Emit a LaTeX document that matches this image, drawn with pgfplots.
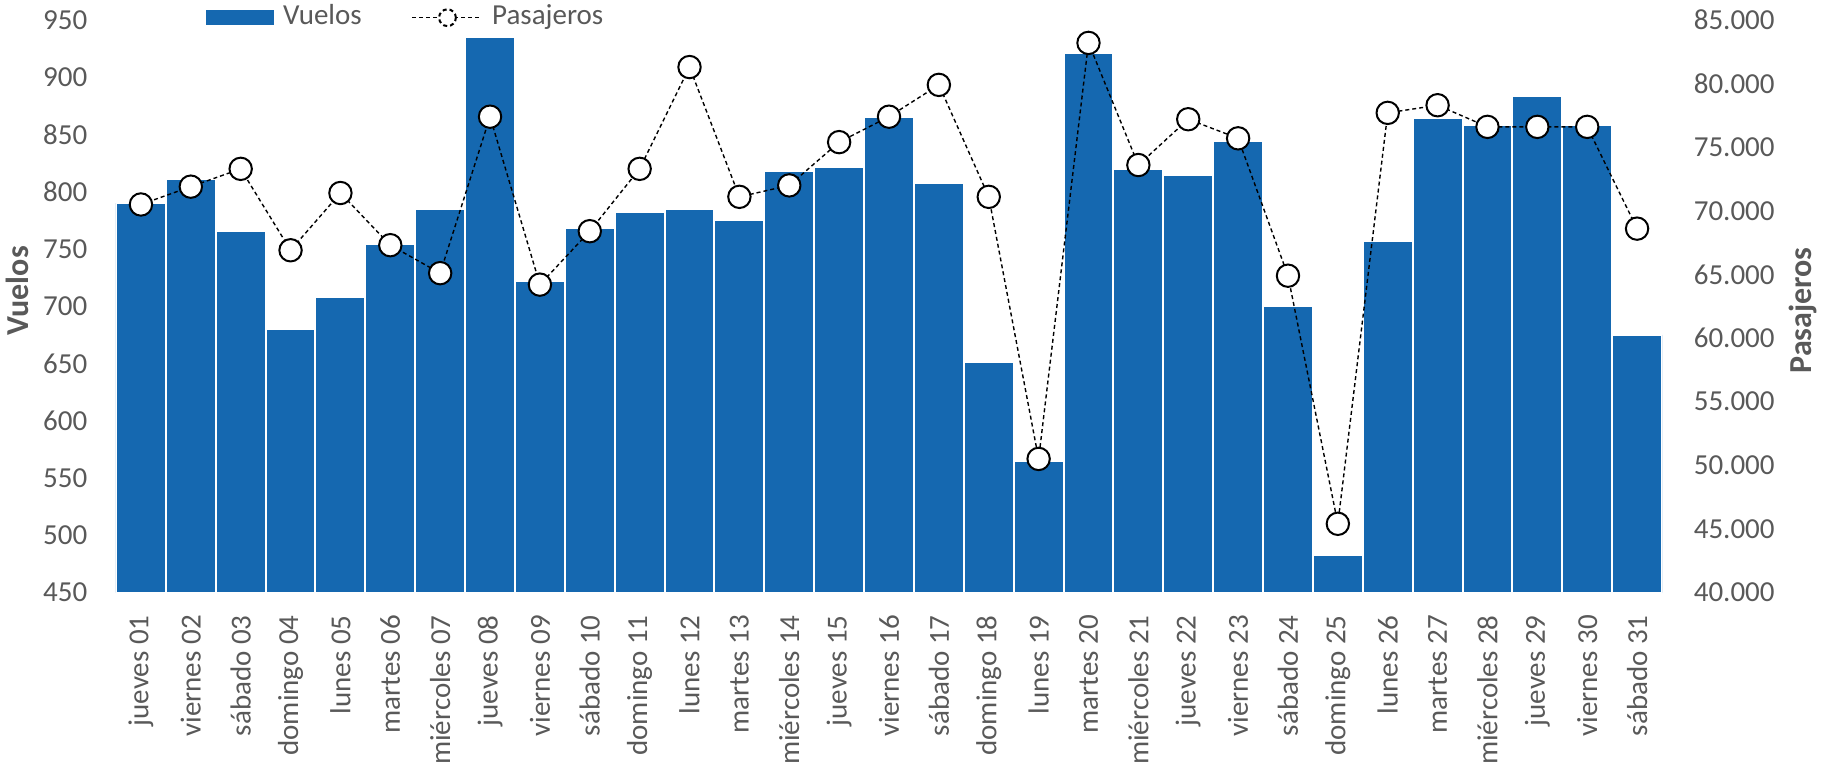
\documentclass[border=0pt]{standalone}
\usepackage{pgfplots}
\usepackage{pgfplotstable}
\pgfplotsset{compat=1.18}
\usepackage{fontspec}
\setmainfont{Carlito}

\definecolor{barblue}{RGB}{21,104,176}
\definecolor{txt}{RGB}{89,89,89}

% dia, vuelos, pasajeros
\pgfplotstableread{
x v p
1 790 70500
2 811 71900
3 766 73300
4 680 66900
5 708 71400
6 754 67300
7 785 65100
8 935 77400
9 722 64200
10 768 68400
11 782 73300
12 785 81300
13 775 71100
14 818 72000
15 822 75400
16 865 77400
17 808 79900
18 651 71100
19 565 50500
20 921 83200
21 820 73600
22 815 77200
23 844 75700
24 700 64900
25 483 45400
26 757 77700
27 864 78300
28 858 76600
29 884 76600
30 858 76600
31 675 68600
}\datos

\newcommand{\tickfont}{\fontsize{7.25}{8.7}\selectfont}
\newcommand{\labfont}{\fontsize{8}{9.6}\selectfont\bfseries}

\pgfplotsset{
  base/.style={
    scale only axis, width=386.5pt, height=143.125pt,
    at={(29pt,44.625pt)}, anchor=south west,
    xmin=0.5, xmax=31.5,
    axis line style={draw=none}, major tick length=0pt,
    tick label style={font=\tickfont, text=txt},
    /pgf/number format/assume math mode=true,
  }
}

\begin{document}
\begin{tikzpicture}
\useasboundingbox (0,0) rectangle (456.5pt,192.75pt);

\begin{axis}[base,
  ymin=450, ymax=950, ytick={450,500,...,950},
  xtick={1,...,31},
  xticklabels={jueves 01, viernes 02, sábado 03, domingo 04, lunes 05, martes 06, miércoles 07, jueves 08, viernes 09, sábado 10, domingo 11, lunes 12, martes 13, miércoles 14, jueves 15, viernes 16, sábado 17, domingo 18, lunes 19, martes 20, miércoles 21, jueves 22, viernes 23, sábado 24, domingo 25, lunes 26, martes 27, miércoles 28, jueves 29, viernes 30, sábado 31},
  xticklabel style={rotate=90, anchor=east, inner sep=0pt},
  xticklabel shift=5.5pt,
  yticklabel style={inner sep=0pt},
  yticklabel shift=7pt,
  ylabel={Vuelos},
  ylabel style={at={(axis description cs:-0.064,0.527)}, anchor=center, font=\labfont, text=txt},
]
\addplot[ybar, bar width=1, fill=barblue, draw=white, line width=0.5pt] table[x=x, y=v] {\datos};
\end{axis}

\begin{axis}[base,
  axis x line=none, xtick=\empty,
  axis y line*=right,
  ymin=40000, ymax=85000, ytick={40000,45000,...,85000},
  scaled y ticks=false,
  /pgf/number format/.cd, fixed, precision=0, 1000 sep={.}, /pgfplots/.cd,
  yticklabel style={inner sep=0pt},
  yticklabel shift=7.75pt,
  ylabel={Pasajeros},
  ylabel style={at={(axis description cs:1.091,0.493)}, anchor=center, rotate=0, font=\labfont, text=txt},
  legend columns=2,
  legend style={at={(axis description cs:0.058,1.004)}, anchor=west,
    draw=none, fill=none, inner sep=0pt, column sep=2.25pt,
    font=\tickfont, text=txt,
    nodes={inner sep=0pt},
    /tikz/every even column/.append style={column sep=12.5pt}},
]
\addlegendimage{legend image code/.code={\fill[barblue] (0pt,-1.625pt) rectangle (16.5pt,1.625pt);}}
\addlegendentry{Vuelos}
\addplot[black, line width=0.35pt, dash pattern=on 1pt off 0.75pt,
  mark=*, mark size=2.8pt, mark options={solid, fill=white, draw=black, line width=0.5pt},
  legend image code/.code={
    \draw[black, line width=0.35pt, dash pattern=on 1pt off 0.75pt] (0pt,0pt) -- (17.5pt,0pt);
    \draw[black, fill=white, line width=0.5pt] (8.75pt,0pt) circle (2.1pt);}
] table[x=x, y=p] {\datos};
\addlegendentry{Pasajeros}
\end{axis}
\end{tikzpicture}
\end{document}
